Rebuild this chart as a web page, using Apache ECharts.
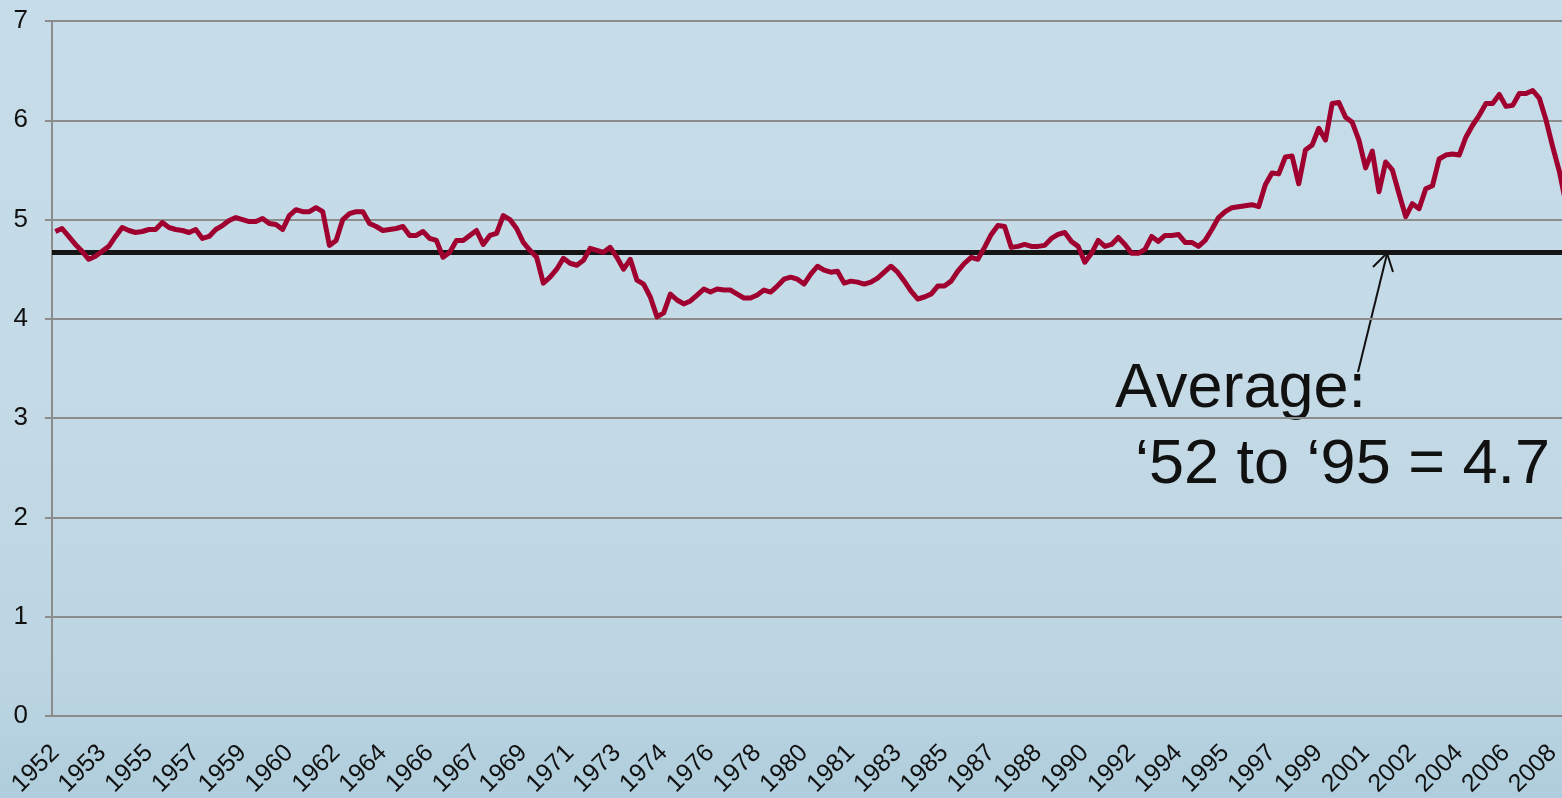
<!DOCTYPE html>
<html>
<head>
<meta charset="utf-8">
<title>Average 1952-2008</title>
<script src="https://cdn.jsdelivr.net/npm/echarts@6/dist/echarts.min.js"></script>
<style>
  html, body { margin: 0; padding: 0; }
  #chart { width: 1562px; height: 798px; }
</style>
</head>
<body>
<div id="chart"></div>
<script>
// quarterly values, 1952 Q1 .. 2008 Q3
var values = [
  4.88, 4.91, 4.83, 4.75, 4.68, 4.60, 4.63, 4.68, 4.73, 4.83,
  4.92, 4.89, 4.87, 4.88, 4.90, 4.90, 4.97, 4.92, 4.90, 4.89,
  4.87, 4.90, 4.81, 4.83, 4.90, 4.94, 4.99, 5.02, 5.00, 4.98,
  4.98, 5.01, 4.96, 4.95, 4.90, 5.04, 5.10, 5.08, 5.08, 5.12,
  5.08, 4.74, 4.79, 5.00, 5.06, 5.08, 5.08, 4.96, 4.93, 4.89,
  4.90, 4.91, 4.93, 4.84, 4.84, 4.88, 4.81, 4.79, 4.62, 4.67,
  4.79, 4.79, 4.84, 4.89, 4.75, 4.84, 4.86, 5.04, 5.00, 4.91,
  4.77, 4.69, 4.62, 4.36, 4.42, 4.50, 4.61, 4.56, 4.54, 4.59,
  4.71, 4.69, 4.67, 4.72, 4.62, 4.50, 4.60, 4.39, 4.35, 4.22,
  4.02, 4.06, 4.25, 4.19, 4.15, 4.18, 4.24, 4.30, 4.27, 4.30,
  4.29, 4.29, 4.25, 4.21, 4.21, 4.24, 4.29, 4.27, 4.33, 4.40,
  4.42, 4.40, 4.35, 4.45, 4.53, 4.49, 4.47, 4.48, 4.36, 4.38,
  4.37, 4.35, 4.37, 4.41, 4.47, 4.53, 4.47, 4.38, 4.28, 4.20,
  4.22, 4.25, 4.33, 4.33, 4.38, 4.48, 4.56, 4.62, 4.60, 4.72,
  4.85, 4.94, 4.93, 4.72, 4.73, 4.75, 4.73, 4.73, 4.74, 4.81,
  4.85, 4.87, 4.78, 4.73, 4.57, 4.66, 4.79, 4.73, 4.75, 4.82,
  4.75, 4.66, 4.66, 4.70, 4.83, 4.78, 4.84, 4.84, 4.85, 4.77,
  4.77, 4.73, 4.79, 4.90, 5.02, 5.08, 5.12, 5.13, 5.14, 5.15,
  5.13, 5.35, 5.47, 5.46, 5.63, 5.64, 5.36, 5.70, 5.75, 5.92,
  5.80, 6.17, 6.18, 6.03, 5.98, 5.80, 5.52, 5.69, 5.28, 5.58,
  5.50, 5.26, 5.03, 5.16, 5.11, 5.31, 5.34, 5.61, 5.65, 5.66,
  5.65, 5.83, 5.95, 6.05, 6.17, 6.17, 6.26, 6.14, 6.15, 6.27,
  6.27, 6.30, 6.22, 6.00, 5.73, 5.48, 5.15
];

// average '52 to '95
var average = [4.67];

var firstYear = 1952;
var yTicks = [0, 1, 2, 3, 4, 5, 6, 7];

// one category per quarter, labelled with its year
var quarters = [];
for (var i = 0; i < values.length; i++) {
  quarters.push(String(firstYear + Math.floor(i / 4)));
}

var chart = echarts.init(document.getElementById('chart'));

var font = '"Liberation Sans", Arial, sans-serif';
var gray = '#8c8c8c';

option = {
  animation: false,
  backgroundColor: {
    type: 'linear', x: 0, y: 0, x2: 0, y2: 1,
    colorStops: [
      { offset: 0, color: '#c6dce8' },
      { offset: 0.5, color: '#c4dae6' },
      { offset: 0.85, color: '#bcd5e2' },
      { offset: 1, color: '#afcddc' }
    ]
  },
  grid: {
    left: 52,
    top: 21,
    height: 695,
    width: values.length * 6.685, // runs a little past the right edge
    outerBoundsMode: 'none',
    containLabel: false
  },
  xAxis: {
    type: 'category',
    data: quarters,
    boundaryGap: true,
    axisLine: { lineStyle: { color: gray, width: 2 } },
    axisTick: {
      interval: 0,
      length: 7,
      lineStyle: { color: gray, width: 2 }
    },
    axisLabel: {
      interval: 6,
      rotate: 45,
      margin: 33,
      color: '#111',
      fontSize: 25,
      fontFamily: font
    },
    splitLine: { show: false }
  },
  yAxis: {
    type: 'value',
    min: yTicks[0],
    max: yTicks[yTicks.length - 1],
    interval: 1,
    axisLine: { show: true, lineStyle: { color: gray, width: 2 } },
    axisTick: { show: true, length: 7, lineStyle: { color: gray, width: 2 } },
    axisLabel: {
      margin: 24,
      color: '#111',
      fontSize: 26,
      fontFamily: font
    },
    splitLine: { lineStyle: { color: gray, width: 2 } }
  },
  series: [{
    type: 'line',
    data: values,
    symbol: 'none',
    z: 3,
    lineStyle: { color: '#a0002f', width: 5, join: 'round' },
    markLine: {
      silent: true,
      z: 2,
      symbol: ['none', 'none'],
      label: { show: false },
      lineStyle: { color: '#151515', width: 5, type: 'solid' },
      data: [{ yAxis: average[0] }]
    }
  }],
  graphic: [
    {
      type: 'text',
      x: 1115, y: 390,
      style: {
        text: 'Average:',
        font: '63px ' + font,
        fill: '#111',
        verticalAlign: 'middle'
      }
    },
    {
      type: 'text',
      x: 1135, y: 466,
      style: {
        text: '\u201852 to \u201895 = 4.7',
        font: '63px ' + font,
        fill: '#111',
        verticalAlign: 'middle'
      }
    },
    {
      // arrow pointing at the average line
      type: 'polyline',
      shape: { points: [[1358, 372], [1387, 254]] },
      style: { stroke: '#111', lineWidth: 2, fill: null }
    },
    {
      type: 'polyline',
      shape: { points: [[1373, 267], [1387, 253], [1393, 272]] },
      style: { stroke: '#111', lineWidth: 2, fill: null }
    }
  ]
};

chart.setOption(option);
</script>
</body>
</html>
